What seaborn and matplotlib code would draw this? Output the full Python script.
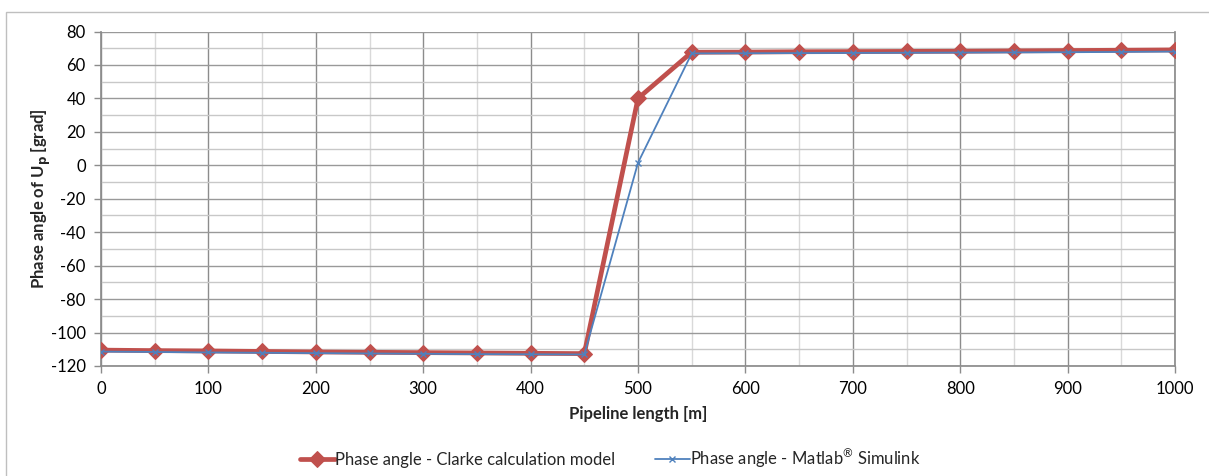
import matplotlib
matplotlib.use("Agg")
import matplotlib.pyplot as plt
import seaborn as sns
import pandas as pd
from matplotlib.patches import Rectangle
from matplotlib.ticker import MultipleLocator

sns.set_theme(style="white")
plt.rcParams['font.family'] = ['Lato', 'DejaVu Sans']
plt.rcParams['axes.unicode_minus'] = False

length_m = [0, 50, 100, 150, 200, 250, 300, 350, 400, 450, 500,
            550, 600, 650, 700, 750, 800, 850, 900, 950, 1000]
clarke = [-110.5, -110.8, -111.0, -111.3, -111.6, -111.8, -112.0, -112.2, -112.4, -112.6, 40.0,
          67.6, 67.7, 67.9, 68.0, 68.1, 68.2, 68.4, 68.6, 68.8, 69.0]
simulink = [-111.4, -111.6, -111.9, -112.1, -112.3, -112.5, -112.7, -112.9, -113.0, -113.1, 1.5,
            66.9, 67.0, 67.1, 67.2, 67.3, 67.4, 67.5, 67.6, 67.8, 68.0]
label_clarke = "Phase angle - Clarke calculation model"
label_sim = "Phase angle - Matlab$^{\\mathregular{\u00ae}}$ Simulink"

df = pd.DataFrame({"length": length_m, "clarke": clarke, "sim": simulink})

fig = plt.figure(figsize=(12.09, 4.76), dpi=100)
ax = fig.add_axes([101/1209, 1 - 366/476, (1175-101)/1209, (366-31.5)/476])

# outer chart border
fig.patches.append(Rectangle((6/1209, -0.05), 1.2, (476-12)/476 + 0.05,
                             transform=fig.transFigure, fill=False,
                             edgecolor="#bfbfbf", linewidth=1.0, zorder=0))

sns.lineplot(data=df, x="length", y="clarke", ax=ax, color="#C0504D", linewidth=3.4,
             marker="D", markersize=8.5, markeredgecolor="#C0504D",
             label=label_clarke, zorder=3)
sns.lineplot(data=df, x="length", y="sim", ax=ax, color="#4F81BD", linewidth=1.3,
             marker="x", markersize=4, markeredgewidth=1.0, markeredgecolor="#4F81BD",
             label=label_sim, zorder=4)

ax.set_xlim(0, 1000)
ax.set_ylim(-120, 80)
ax.xaxis.set_major_locator(MultipleLocator(100))
ax.xaxis.set_minor_locator(MultipleLocator(50))
ax.yaxis.set_major_locator(MultipleLocator(20))
ax.yaxis.set_minor_locator(MultipleLocator(10))

ax.grid(which="major", axis="x", color="#8c8c8c", linewidth=1.0)
ax.grid(which="minor", axis="x", color="#d9d9d9", linewidth=1.0)
ax.grid(which="major", axis="y", color="#999999", linewidth=1.0)
ax.grid(which="minor", axis="y", color="#c8c8c8", linewidth=1.0)
ax.set_axisbelow(True)

ax.spines["top"].set_visible(False)
for side in ["left", "bottom", "right"]:
    ax.spines[side].set_color("#8c8c8c")

ax.tick_params(axis="both", which="major", direction="out", length=5, width=1,
               color="#8c8c8c", labelsize=12, labelcolor="black", bottom=True, left=True)
ax.tick_params(axis="x", which="major", pad=6)
ax.tick_params(axis="y", which="major", pad=6)
ax.tick_params(which="minor", length=0)

ax.set_xlabel("Pipeline length [m]", fontsize=12, fontweight="bold", labelpad=6)
ax.set_ylabel("Phase angle of U$_\\mathbf{p}$ [grad]", fontsize=12, fontweight="bold")
ax.yaxis.set_label_coords((53 - 101) / 1074, 0.5)

leg_cx = (610 - 101) / (1175 - 101)
ax.legend(loc="center", bbox_to_anchor=(leg_cx, (476-458 - (476-366)) / (366-31.5)),
          ncol=2, frameon=False, fontsize=12, columnspacing=2.4, handlelength=2.1,
          handletextpad=0.0, borderaxespad=0)

fig.savefig("out.png", dpi=100)
